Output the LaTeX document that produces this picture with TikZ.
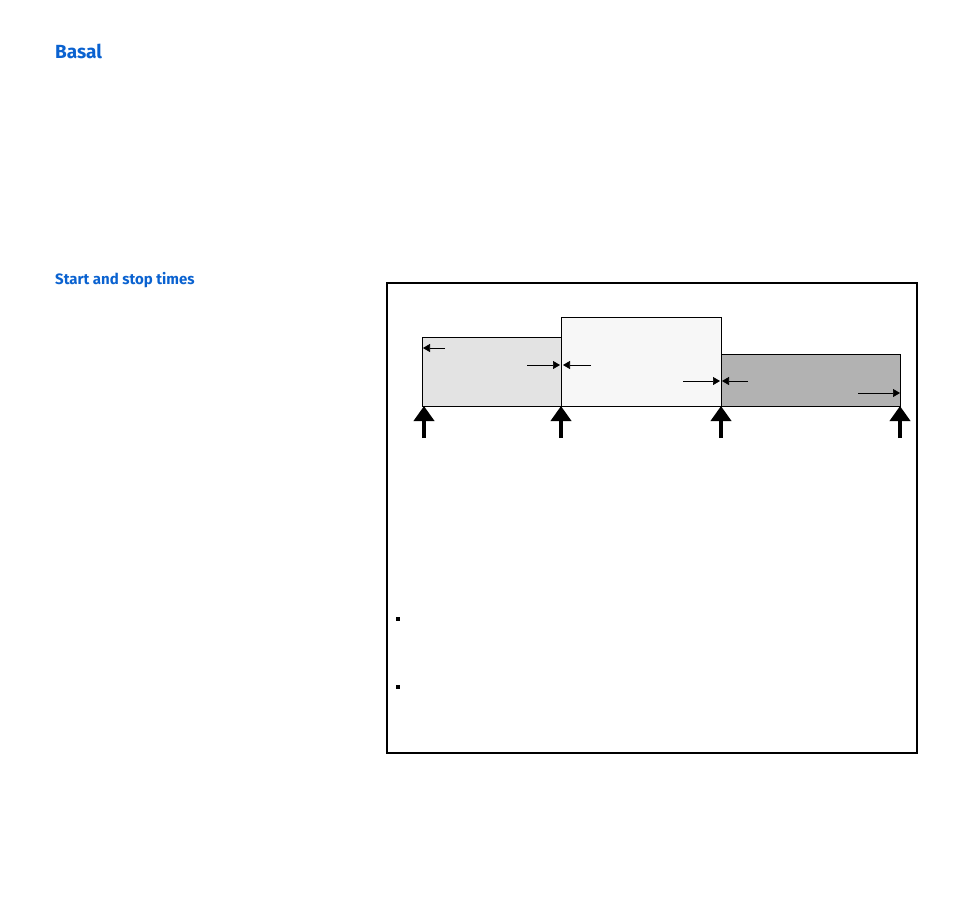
\documentclass[tikz,border=0pt]{standalone}
\usepackage{fontspec}
\setmainfont{Fira Sans}
\usetikzlibrary{arrows.meta}
\definecolor{ttl}{HTML}{0A62D0}
\begin{document}
\begin{tikzpicture}[x=1pt,y=-1pt,
  ttlstyle/.style={anchor=west,text=ttl,font=\bfseries,inner sep=0},
  seg/.style={draw=black,line width=0.8pt},
  small/.style={-{Triangle[length=7pt,width=8pt]},line width=0.7pt},
  big/.style={-{Triangle[length=15pt,width=20pt]},line width=4pt}]
\useasboundingbox (0,0) rectangle (954,914);
\node[ttlstyle,font=\bfseries\fontsize{19}{22}\selectfont] (t1) at (55,51) {Basal};
\node[ttlstyle,font=\bfseries\fontsize{15}{18}\selectfont] (t2) at (55,280) {Start and stop times};
\draw[line width=1.5pt] (387,283) rectangle (917,753);
\draw[seg,fill={rgb,255:red,227;green,227;blue,227}] (422,337) rectangle (561,406);
\draw[seg,fill={rgb,255:red,247;green,247;blue,247}] (561,317) rectangle (721,406);
\draw[seg,fill={rgb,255:red,178;green,178;blue,178}] (721,354) rectangle (900,406);
\draw[small] (445,348) -- (423,348);
\draw[small] (527,365) -- (560,365);
\draw[small] (591,365) -- (563,365);
\draw[small] (683,381) -- (720,381);
\draw[small] (748,381) -- (722,381);
\draw[small] (858,393) -- (900,393);
\foreach \x in {424,561,721,900} \draw[big] (\x,438) -- (\x,406);
\fill (396,617) rectangle (400,621);
\fill (396,685) rectangle (400,689);
\end{tikzpicture}
\end{document}
